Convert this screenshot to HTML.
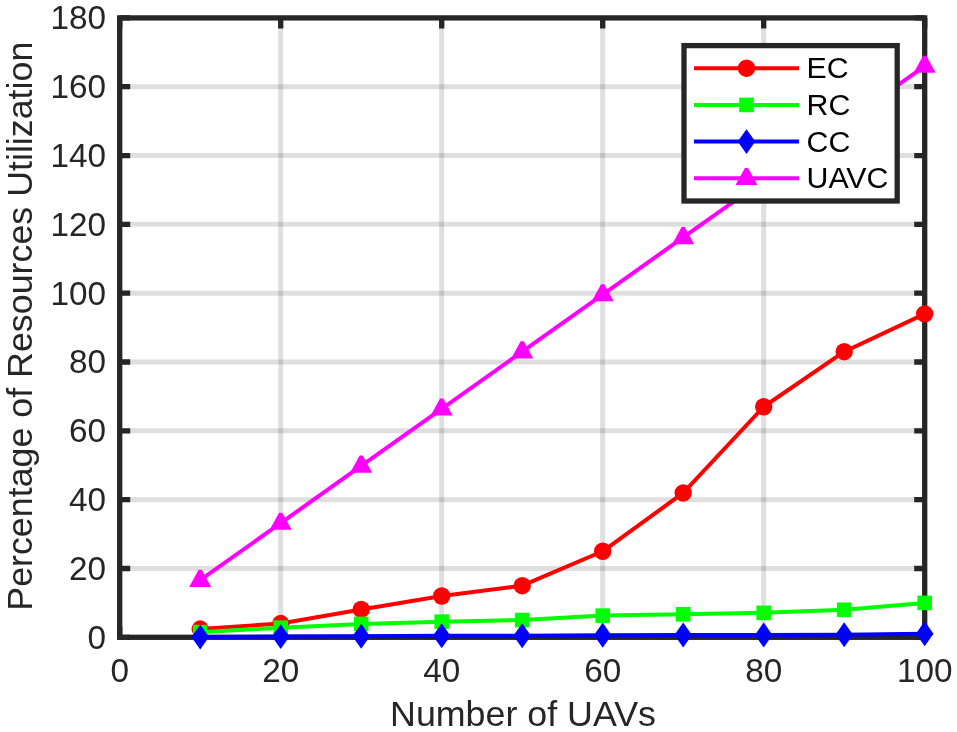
<!DOCTYPE html><html><head><meta charset="utf-8"><style>html,body{margin:0;padding:0;background:#fff;}svg{display:block;}text{font-family:"Liberation Sans",sans-serif;}svg{will-change:transform;}</style></head><body>
<svg width="957" height="732" viewBox="0 0 957 732">
<rect x="0" y="0" width="957" height="732" fill="#fff"/>
<path d="M280.70 17.90V637.30" stroke="#262626" stroke-opacity="0.15" stroke-width="5.0" fill="none"/>
<path d="M441.70 17.90V637.30" stroke="#262626" stroke-opacity="0.15" stroke-width="5.0" fill="none"/>
<path d="M602.70 17.90V637.30" stroke="#262626" stroke-opacity="0.15" stroke-width="5.0" fill="none"/>
<path d="M763.70 17.90V637.30" stroke="#262626" stroke-opacity="0.15" stroke-width="5.0" fill="none"/>
<path d="M119.70 568.48H924.70" stroke="#262626" stroke-opacity="0.15" stroke-width="5.0" fill="none"/>
<path d="M119.70 499.66H924.70" stroke="#262626" stroke-opacity="0.15" stroke-width="5.0" fill="none"/>
<path d="M119.70 430.83H924.70" stroke="#262626" stroke-opacity="0.15" stroke-width="5.0" fill="none"/>
<path d="M119.70 362.01H924.70" stroke="#262626" stroke-opacity="0.15" stroke-width="5.0" fill="none"/>
<path d="M119.70 293.19H924.70" stroke="#262626" stroke-opacity="0.15" stroke-width="5.0" fill="none"/>
<path d="M119.70 224.37H924.70" stroke="#262626" stroke-opacity="0.15" stroke-width="5.0" fill="none"/>
<path d="M119.70 155.54H924.70" stroke="#262626" stroke-opacity="0.15" stroke-width="5.0" fill="none"/>
<path d="M119.70 86.72H924.70" stroke="#262626" stroke-opacity="0.15" stroke-width="5.0" fill="none"/>
<path d="M119.70 637.30V626.80M119.70 17.90V28.40M280.70 637.30V626.80M280.70 17.90V28.40M441.70 637.30V626.80M441.70 17.90V28.40M602.70 637.30V626.80M602.70 17.90V28.40M763.70 637.30V626.80M763.70 17.90V28.40M924.70 637.30V626.80M924.70 17.90V28.40M119.70 637.30H130.20M924.70 637.30H914.20M119.70 568.48H130.20M924.70 568.48H914.20M119.70 499.66H130.20M924.70 499.66H914.20M119.70 430.83H130.20M924.70 430.83H914.20M119.70 362.01H130.20M924.70 362.01H914.20M119.70 293.19H130.20M924.70 293.19H914.20M119.70 224.37H130.20M924.70 224.37H914.20M119.70 155.54H130.20M924.70 155.54H914.20M119.70 86.72H130.20M924.70 86.72H914.20M119.70 17.90H130.20M924.70 17.90H914.20" stroke="#262626" stroke-width="5.3" fill="none"/>
<rect x="119.70" y="17.90" width="805.00" height="619.40" stroke="#262626" stroke-width="5.3" fill="none" stroke-linejoin="miter"/>
<text x="106" y="648.78" font-size="33.3" fill="#262626" text-anchor="end">0</text>
<text x="106" y="579.96" font-size="33.3" fill="#262626" text-anchor="end">20</text>
<text x="106" y="511.13" font-size="33.3" fill="#262626" text-anchor="end">40</text>
<text x="106" y="442.31" font-size="33.3" fill="#262626" text-anchor="end">60</text>
<text x="106" y="373.49" font-size="33.3" fill="#262626" text-anchor="end">80</text>
<text x="106" y="304.67" font-size="33.3" fill="#262626" text-anchor="end">100</text>
<text x="106" y="235.85" font-size="33.3" fill="#262626" text-anchor="end">120</text>
<text x="106" y="167.02" font-size="33.3" fill="#262626" text-anchor="end">140</text>
<text x="106" y="98.20" font-size="33.3" fill="#262626" text-anchor="end">160</text>
<text x="106" y="29.38" font-size="33.3" fill="#262626" text-anchor="end">180</text>
<text x="119.70" y="681.77" font-size="33.3" fill="#262626" text-anchor="middle">0</text>
<text x="280.70" y="681.77" font-size="33.3" fill="#262626" text-anchor="middle">20</text>
<text x="441.70" y="681.77" font-size="33.3" fill="#262626" text-anchor="middle">40</text>
<text x="602.70" y="681.77" font-size="33.3" fill="#262626" text-anchor="middle">60</text>
<text x="763.70" y="681.77" font-size="33.3" fill="#262626" text-anchor="middle">80</text>
<text x="924.70" y="681.77" font-size="33.3" fill="#262626" text-anchor="middle">100</text>
<text x="523.00" y="725.9" font-size="35.8" fill="#262626" text-anchor="middle">Number of UAVs</text>
<text transform="translate(32 326.2) rotate(-90)" x="0" y="0" font-size="35.8" fill="#262626" text-anchor="middle">Percentage of Resources Utilization</text>
<polyline points="200.20,629.04 280.70,623.54 361.20,609.43 441.70,596.01 522.20,585.68 602.70,551.27 683.20,492.95 763.70,406.75 844.20,351.69 924.70,313.84" stroke="#ff0000" stroke-width="4.0" fill="none" stroke-linejoin="round"/>
<circle cx="200.20" cy="629.04" r="8.7" fill="#ff0000"/>
<circle cx="280.70" cy="623.54" r="8.7" fill="#ff0000"/>
<circle cx="361.20" cy="609.43" r="8.7" fill="#ff0000"/>
<circle cx="441.70" cy="596.01" r="8.7" fill="#ff0000"/>
<circle cx="522.20" cy="585.68" r="8.7" fill="#ff0000"/>
<circle cx="602.70" cy="551.27" r="8.7" fill="#ff0000"/>
<circle cx="683.20" cy="492.95" r="8.7" fill="#ff0000"/>
<circle cx="763.70" cy="406.75" r="8.7" fill="#ff0000"/>
<circle cx="844.20" cy="351.69" r="8.7" fill="#ff0000"/>
<circle cx="924.70" cy="313.84" r="8.7" fill="#ff0000"/>
<polyline points="200.20,632.14 280.70,627.66 361.20,623.88 441.70,621.64 522.20,620.09 602.70,615.62 683.20,614.24 763.70,612.87 844.20,609.77 924.70,602.89" stroke="#00ff00" stroke-width="4.0" fill="none" stroke-linejoin="round"/>
<rect x="192.90" y="624.84" width="14.6" height="14.6" fill="#00ff00"/>
<rect x="273.40" y="620.36" width="14.6" height="14.6" fill="#00ff00"/>
<rect x="353.90" y="616.58" width="14.6" height="14.6" fill="#00ff00"/>
<rect x="434.40" y="614.34" width="14.6" height="14.6" fill="#00ff00"/>
<rect x="514.90" y="612.79" width="14.6" height="14.6" fill="#00ff00"/>
<rect x="595.40" y="608.32" width="14.6" height="14.6" fill="#00ff00"/>
<rect x="675.90" y="606.94" width="14.6" height="14.6" fill="#00ff00"/>
<rect x="756.40" y="605.57" width="14.6" height="14.6" fill="#00ff00"/>
<rect x="836.90" y="602.47" width="14.6" height="14.6" fill="#00ff00"/>
<rect x="917.40" y="595.59" width="14.6" height="14.6" fill="#00ff00"/>
<polyline points="200.20,636.96 280.70,636.61 361.20,636.27 441.70,635.75 522.20,635.68 602.70,635.24 683.20,634.93 763.70,634.99 844.20,634.75 924.70,633.69" stroke="#0000ff" stroke-width="4.0" fill="none" stroke-linejoin="round"/>
<path d="M200.20 624.51L209.00 636.96L200.20 649.41L191.40 636.96Z" fill="#0000ff"/>
<path d="M280.70 624.16L289.50 636.61L280.70 649.06L271.90 636.61Z" fill="#0000ff"/>
<path d="M361.20 623.82L370.00 636.27L361.20 648.72L352.40 636.27Z" fill="#0000ff"/>
<path d="M441.70 623.30L450.50 635.75L441.70 648.20L432.90 635.75Z" fill="#0000ff"/>
<path d="M522.20 623.23L531.00 635.68L522.20 648.13L513.40 635.68Z" fill="#0000ff"/>
<path d="M602.70 622.79L611.50 635.24L602.70 647.69L593.90 635.24Z" fill="#0000ff"/>
<path d="M683.20 622.48L692.00 634.93L683.20 647.38L674.40 634.93Z" fill="#0000ff"/>
<path d="M763.70 622.54L772.50 634.99L763.70 647.44L754.90 634.99Z" fill="#0000ff"/>
<path d="M844.20 622.30L853.00 634.75L844.20 647.20L835.40 634.75Z" fill="#0000ff"/>
<path d="M924.70 621.24L933.50 633.69L924.70 646.14L915.90 633.69Z" fill="#0000ff"/>
<polyline points="200.20,580.18 280.70,523.06 361.20,465.93 441.70,408.81 522.20,351.69 602.70,294.57 683.20,237.44 763.70,180.32 844.20,123.20 924.70,66.08" stroke="#ff00ff" stroke-width="4.0" fill="none" stroke-linejoin="round"/>
<path d="M198.60 569.78L201.80 569.78L211.20 586.88L189.20 586.88Z" fill="#ff00ff"/>
<path d="M279.10 512.66L282.30 512.66L291.70 529.76L269.70 529.76Z" fill="#ff00ff"/>
<path d="M359.60 455.53L362.80 455.53L372.20 472.63L350.20 472.63Z" fill="#ff00ff"/>
<path d="M440.10 398.41L443.30 398.41L452.70 415.51L430.70 415.51Z" fill="#ff00ff"/>
<path d="M520.60 341.29L523.80 341.29L533.20 358.39L511.20 358.39Z" fill="#ff00ff"/>
<path d="M601.10 284.17L604.30 284.17L613.70 301.27L591.70 301.27Z" fill="#ff00ff"/>
<path d="M681.60 227.04L684.80 227.04L694.20 244.14L672.20 244.14Z" fill="#ff00ff"/>
<path d="M762.10 169.92L765.30 169.92L774.70 187.02L752.70 187.02Z" fill="#ff00ff"/>
<path d="M842.60 112.80L845.80 112.80L855.20 129.90L833.20 129.90Z" fill="#ff00ff"/>
<path d="M923.10 55.68L926.30 55.68L935.70 72.78L913.70 72.78Z" fill="#ff00ff"/>
<rect x="684.0" y="45.6" width="213.20" height="155.40" fill="#fff" stroke="#262626" stroke-width="5.3"/>
<path d="M694 68.2H799" stroke="#ff0000" stroke-width="4.0"/>
<circle cx="746.50" cy="68.20" r="8.7" fill="#ff0000"/>
<text x="806.51" y="78.10" font-size="30.3" fill="#000">EC</text>
<path d="M694 104.95H799" stroke="#00ff00" stroke-width="4.0"/>
<rect x="739.20" y="97.65" width="14.6" height="14.6" fill="#00ff00"/>
<text x="806.51" y="114.85" font-size="30.3" fill="#000">RC</text>
<path d="M694 141.6H799" stroke="#0000ff" stroke-width="4.0"/>
<path d="M746.50 129.15L755.30 141.60L746.50 154.05L737.70 141.60Z" fill="#0000ff"/>
<text x="806.51" y="151.50" font-size="30.3" fill="#000">CC</text>
<path d="M694 178.3H799" stroke="#ff00ff" stroke-width="4.0"/>
<path d="M744.90 167.90L748.10 167.90L757.50 185.00L735.50 185.00Z" fill="#ff00ff"/>
<text x="806.51" y="188.20" font-size="30.3" fill="#000">UAVC</text>
</svg></body></html>
